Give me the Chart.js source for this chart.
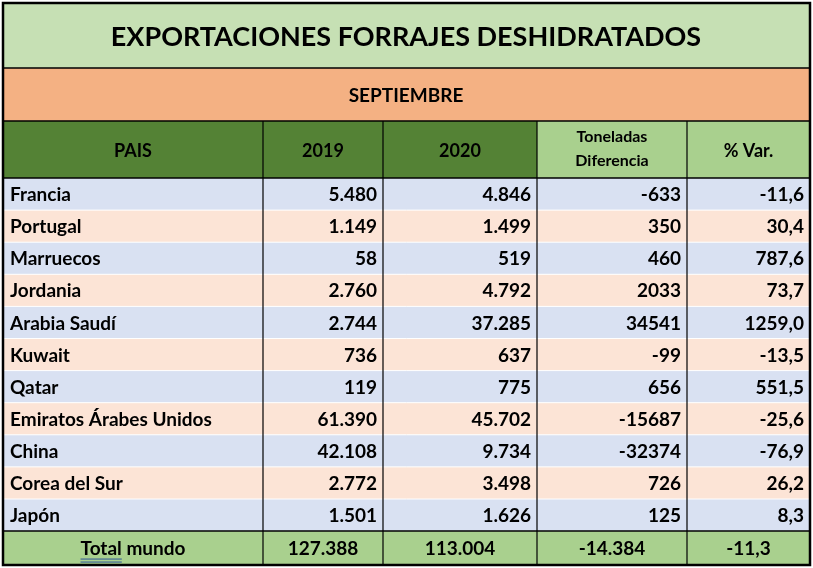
<!DOCTYPE html>
<html><head><meta charset="utf-8">
<script src="https://cdn.jsdelivr.net/npm/chart.js@4"></script>
<style>html,body{margin:0;padding:0;background:#fff}#wrap{width:813px;height:568px}</style>
</head><body><div id="wrap"><canvas id="c"></canvas></div>
<script>
const title = 'EXPORTACIONES FORRAJES DESHIDRATADOS';
const month = 'SEPTIEMBRE';
const headers = ['PAIS', '2019', '2020', 'Toneladas\nDiferencia', '% Var.'];
const countries = ['Francia', 'Portugal', 'Marruecos', 'Jordania', 'Arabia Saudí', 'Kuwait', 'Qatar', 'Emiratos Árabes Unidos', 'China', 'Corea del Sur', 'Japón'];
const v2019 = ['5.480', '1.149', '58', '2.760', '2.744', '736', '119', '61.390', '42.108', '2.772', '1.501'];
const v2020 = ['4.846', '1.499', '519', '4.792', '37.285', '637', '775', '45.702', '9.734', '3.498', '1.626'];
const diff = ['-633', '350', '460', '2033', '34541', '-99', '656', '-15687', '-32374', '726', '125'];
const pct = ['-11,6', '30,4', '787,6', '73,7', '1259,0', '-13,5', '551,5', '-25,6', '-76,9', '26,2', '8,3'];
const totals = ['Total mundo', '127.388', '113.004', '-14.384', '-11,3'];

// layout (pixels in scale units)
const colEdges = [3, 263, 383, 537, 687, 810];
const rowTop = 178, rowH = 32.1;
const font = 'Lato, "Open Sans", sans-serif';

const tablePlugin = {
  id: 'table',
  afterDraw(chart) {
    const ctx = chart.ctx, X = chart.scales.x, Y = chart.scales.y;
    const px = v => X.getPixelForValue(v), py = v => Y.getPixelForValue(v);
    const rect = (x0, y0, x1, y1, fill) => {
      ctx.fillStyle = fill;
      ctx.fillRect(px(x0), py(y0), px(x1) - px(x0), py(y1) - py(y0));
    };
    const text = (s, x, y, size, align, color) => {
      ctx.font = 'bold ' + size + 'px ' + font;
      ctx.fillStyle = color || '#000';
      ctx.textAlign = align; ctx.textBaseline = 'middle';
      ctx.fillText(s, px(x), py(y));
    };
    const line = (x0, y0, x1, y1, w, c) => {
      ctx.strokeStyle = c || '#000'; ctx.lineWidth = w;
      ctx.beginPath(); ctx.moveTo(px(x0), py(y0)); ctx.lineTo(px(x1), py(y1)); ctx.stroke();
    };
    ctx.save();
    rect(3, 3, 810, 68, '#c6e0b4');
    text(title, 406, 37, 27, 'center');
    rect(3, 68, 810, 121, '#f4b183');
    text(month, 406, 96, 19, 'center');
    const hdrFill = ['#548235', '#548235', '#548235', '#a9d08e', '#a9d08e'];
    for (let c = 0; c < 5; c++) {
      rect(colEdges[c], 121, colEdges[c + 1], rowTop, hdrFill[c]);
      const mid = (colEdges[c] + colEdges[c + 1]) / 2;
      const parts = headers[c].split('\n');
      if (parts.length > 1) {
        text(parts[0], mid, 137, 16, 'center');
        text(parts[1], mid, 161, 16, 'center');
      } else text(parts[0], mid, 151, 18, 'center');
    }
    countries.forEach((name, i) => {
      const y0 = rowTop + i * rowH, y1 = y0 + rowH, ym = y0 + rowH / 2 + 1;
      rect(3, y0, 810, y1, i % 2 ? '#fce4d6' : '#d9e1f2');
      if (i) line(3, y0, 810, y0, 1, '#ffffff');
      text(name, 10, ym, 19, 'left');
      [v2019[i], v2020[i], diff[i], pct[i]].forEach((v, k) => text(v, colEdges[k + 2] - 6, ym, 19, 'right'));
    });
    const tEnd = rowTop + countries.length * rowH;
    rect(3, tEnd, 810, 565, '#a9d08e');
    const tm = (tEnd + 565) / 2 + 1;
    totals.forEach((v, c) => text(v, (colEdges[c] + colEdges[c + 1]) / 2, tm, 19, 'center'));
    // double underline on "Total"
    ctx.font = 'bold 19px ' + font;
    const tw = ctx.measureText('Total').width, fw = ctx.measureText(totals[0]).width;
    const ux = px(133) - fw / 2;
    ctx.strokeStyle = '#2f5597'; ctx.lineWidth = 1;
    [tm + 10, tm + 13].forEach(u => { ctx.beginPath(); ctx.moveTo(ux, py(u)); ctx.lineTo(ux + tw, py(u)); ctx.stroke(); });
    // grid
    [68, 121, rowTop, tEnd].forEach(y => line(3, y, 810, y, 1.5));
    for (let c = 1; c < 5; c++) line(colEdges[c], 121, colEdges[c], 565, 1.2);
    ctx.strokeStyle = '#000'; ctx.lineWidth = 2.5;
    ctx.strokeRect(px(3), py(3), px(810) - px(3), py(565) - py(3));
    ctx.restore();
  }
};

new Chart(document.getElementById('c'), {
  type: 'scatter',
  data: { datasets: [{ data: [] }] },
  options: {
    responsive: true, maintainAspectRatio: false, animation: false,
    layout: { padding: 0 },
    plugins: { legend: { display: false }, tooltip: { enabled: false } },
    scales: {
      x: { type: 'linear', min: 0, max: 813, display: false },
      y: { type: 'linear', min: 0, max: 568, reverse: true, display: false }
    }
  },
  plugins: [tablePlugin]
});
</script></body></html>
